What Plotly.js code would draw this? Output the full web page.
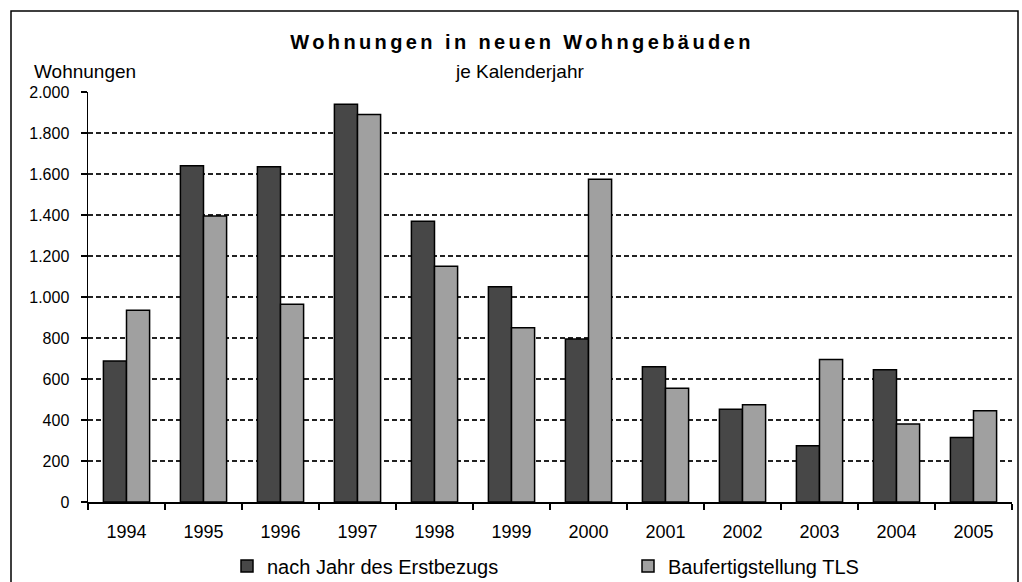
<!DOCTYPE html>
<html>
<head>
<meta charset="utf-8">
<script src="https://cdn.plot.ly/plotly-3.0.1.min.js"></script>
<style>
  html, body { margin: 0; padding: 0; background: #fff; }
  #chart { width: 1022px; height: 582px; }
  .gtitle { letter-spacing: 3.4px; }
</style>
</head>
<body>
<div id="chart"></div>
<script>
const years = ["1994","1995","1996","1997","1998","1999","2000","2001","2002","2003","2004","2005"];
const erstbezug = [688, 1640, 1635, 1940, 1370, 1050, 795, 660, 452, 275, 645, 315];
const tls = [935, 1395, 965, 1890, 1150, 850, 1575, 555, 475, 695, 380, 445];
const seriesNames = ["nach Jahr des Erstbezugs", "Baufertigstellung TLS"];
const yTicks = [0, 200, 400, 600, 800, 1000, 1200, 1400, 1600, 1800, 2000];

const FONT = "Liberation Sans, Arial, sans-serif";

const traces = [
  { type: "bar", name: seriesNames[0], x: years, y: erstbezug, legend: "legend",
    marker: { color: "#474747", line: { color: "#000", width: 1.5 } } },
  { type: "bar", name: seriesNames[1], x: years, y: tls, legend: "legend2",
    marker: { color: "#a0a0a0", line: { color: "#000", width: 1.5 } } }
];

const L = 88, R = 10, T = 92, B = 80, W = 1022, H = 582;
const pw = W - L - R, ph = H - T - B;
const px = v => (v - L) / pw;
const py = v => (H - B - v) / ph;

const legendBase = {
  orientation: "h", xanchor: "left", xref: "paper",
  yanchor: "middle", yref: "paper", y: py(566),
  itemwidth: 30,
  font: { family: FONT, size: 20, color: "#000" },
  bgcolor: "rgba(0,0,0,0)", borderwidth: 0
};

const layout = {
  width: W, height: H,
  margin: { l: L, r: R, t: T, b: B, autoexpand: false },
  paper_bgcolor: "#fff", plot_bgcolor: "#fff",
  separators: ",.",
  font: { family: FONT, size: 16, color: "#000" },
  barmode: "group", bargap: 0.4, bargroupgap: 0,
  showlegend: true,
  title: {
    text: "<b>Wohnungen in neuen Wohngebäuden</b>",
    font: { family: FONT, size: 20, color: "#000" },
    xref: "container", x: 522 / W, xanchor: "center",
    yref: "container", y: 1 - 42 / H, yanchor: "middle"
  },
  xaxis: {
    type: "category",
    showline: true, linecolor: "#000", linewidth: 1.5,
    ticks: "outside", tickson: "boundaries", ticklen: 6, tickcolor: "#000", tickwidth: 1.5,
    ticklabelstandoff: 13,
    tickfont: { family: FONT, size: 18, color: "#000" },
    showgrid: false, zeroline: false, fixedrange: true
  },
  yaxis: {
    range: [0, 2000],
    tickvals: yTicks, tickformat: ",d",
    showline: true, linecolor: "#000", linewidth: 1.5,
    ticks: "outside", ticklen: 6, tickcolor: "#000", tickwidth: 1.5,
    ticklabelstandoff: 8,
    tickfont: { family: FONT, size: 16, color: "#000" },
    showgrid: true, gridcolor: "#222", gridwidth: 2, griddash: "5px,3px",
    zeroline: false, fixedrange: true
  },
  legend: Object.assign({}, legendBase, { x: px(227) }),
  legend2: Object.assign({}, legendBase, { x: px(628) }),
  annotations: [
    { text: "je Kalenderjahr", xref: "paper", yref: "paper",
      x: px(519), y: py(72), xanchor: "center", yanchor: "middle",
      showarrow: false, font: { family: FONT, size: 19, color: "#000" } },
    { text: "Wohnungen", xref: "paper", yref: "paper",
      x: px(32), y: py(72), xanchor: "left", yanchor: "middle",
      showarrow: false, font: { family: FONT, size: 19, color: "#000" } }
  ],
  shapes: [
    { type: "rect", xref: "paper", yref: "paper",
      x0: px(11), x1: px(1018), y0: py(590), y1: py(11),
      line: { color: "#000", width: 1.5 }, fillcolor: "rgba(0,0,0,0)", layer: "above" }
  ]
};

Plotly.newPlot("chart", traces, layout, { displayModeBar: false, staticPlot: true });
</script>
</body>
</html>
